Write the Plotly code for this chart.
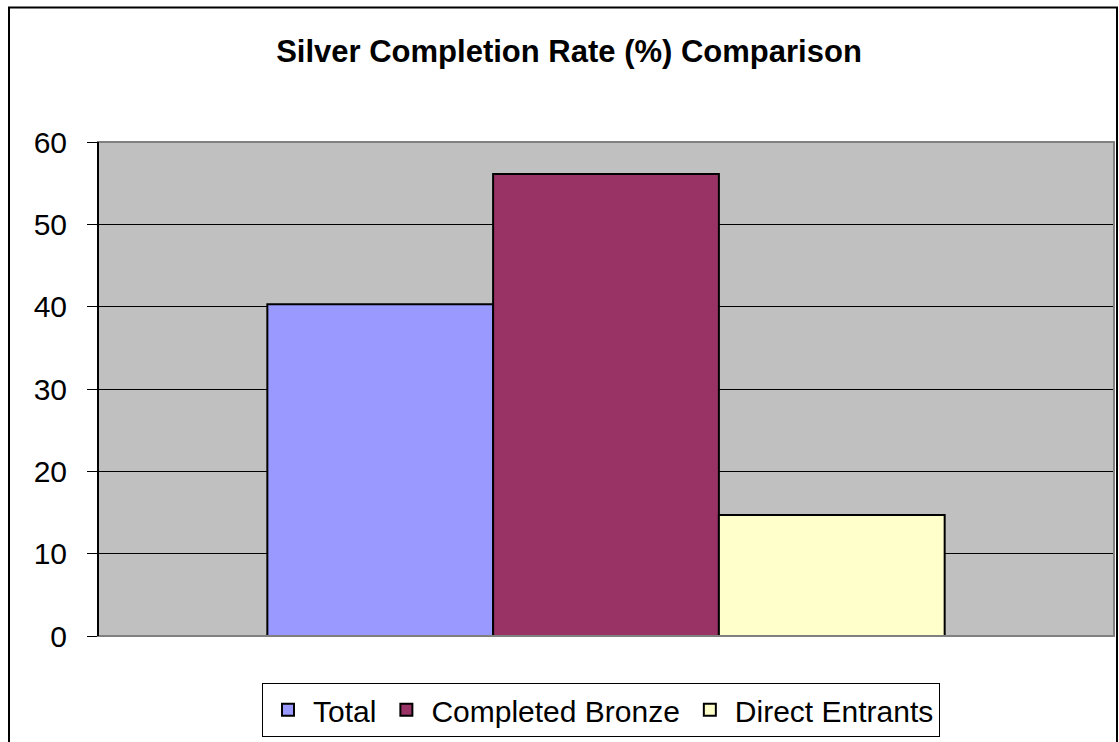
import plotly.graph_objects as go

category = ["Silver"]
series_names = ["Total", "Completed Bronze", "Direct Entrants"]
series_values = [[40.3], [56.1], [14.7]]
series_colors = ["#9999FF", "#993366", "#FFFFCC"]
y_ticks = [0, 10, 20, 30, 40, 50, 60]

W, H = 1119, 742
ml, mr, mt, mb = 98, 5, 142, 104
pw, ph = W - ml - mr, H - mt - mb

fig = go.Figure()
for name, vals, col in zip(series_names, series_values, series_colors):
    fig.add_trace(go.Bar(
        x=category, y=vals, name=name,
        marker=dict(color=col, line=dict(color="black", width=2)),
    ))

def px_x(px):
    return (px - ml) / pw

def px_y(py):
    return (H - mb - py) / ph

fig.update_layout(
    width=W, height=H,
    margin=dict(l=ml, r=mr, t=mt, b=mb, pad=0),
    paper_bgcolor="white",
    plot_bgcolor="#C0C0C0",
    barmode="group",
    bargap=1/3,
    bargroupgap=0,
    font=dict(family="Liberation Sans, Arial, sans-serif", color="black"),
    title=dict(text="<b>Silver Completion Rate (%) Comparison</b>",
               x=(569 / W), xanchor="center", y=1 - 51 / H, yanchor="middle",
               font=dict(size=31, color="black")),
    showlegend=True,
    legend=dict(orientation="h", x=px_x(601), xanchor="center",
                y=px_y(685), yanchor="top",
                bordercolor="black", borderwidth=1, bgcolor="white",
                font=dict(size=30), itemwidth=40, traceorder="normal"),
    xaxis=dict(showticklabels=False, showgrid=False, zeroline=False,
               showline=False, ticks=""),
    yaxis=dict(range=[0, 60], tickvals=y_ticks, ticks="outside", ticklen=10,
               tickcolor="black", tickwidth=1,
               showgrid=True, gridcolor="black", gridwidth=1,
               showline=True, linecolor="black", linewidth=1,
               zeroline=False, tickfont=dict(size=30), ticklabelstandoff=14),
)

# plot area border (gray top/right/bottom)
fig.add_shape(type="rect", xref="paper", yref="paper", x0=0, x1=1, y0=0, y1=1,
              line=dict(color="#808080", width=2), fillcolor="rgba(0,0,0,0)", layer="above")
# left axis black line on top
fig.add_shape(type="line", xref="paper", yref="paper", x0=0, x1=0, y0=0, y1=1,
              line=dict(color="black", width=2), layer="above")
# outer chart border
fig.add_shape(type="rect", xref="paper", yref="paper",
              x0=px_x(9), x1=px_x(1117), y0=px_y(750), y1=px_y(7),
              line=dict(color="black", width=2), fillcolor="rgba(0,0,0,0)")

fig.write_html("out.html", config={"displayModeBar": False},
               post_script="document.body.style.margin='0';document.body.style.padding='0';")
